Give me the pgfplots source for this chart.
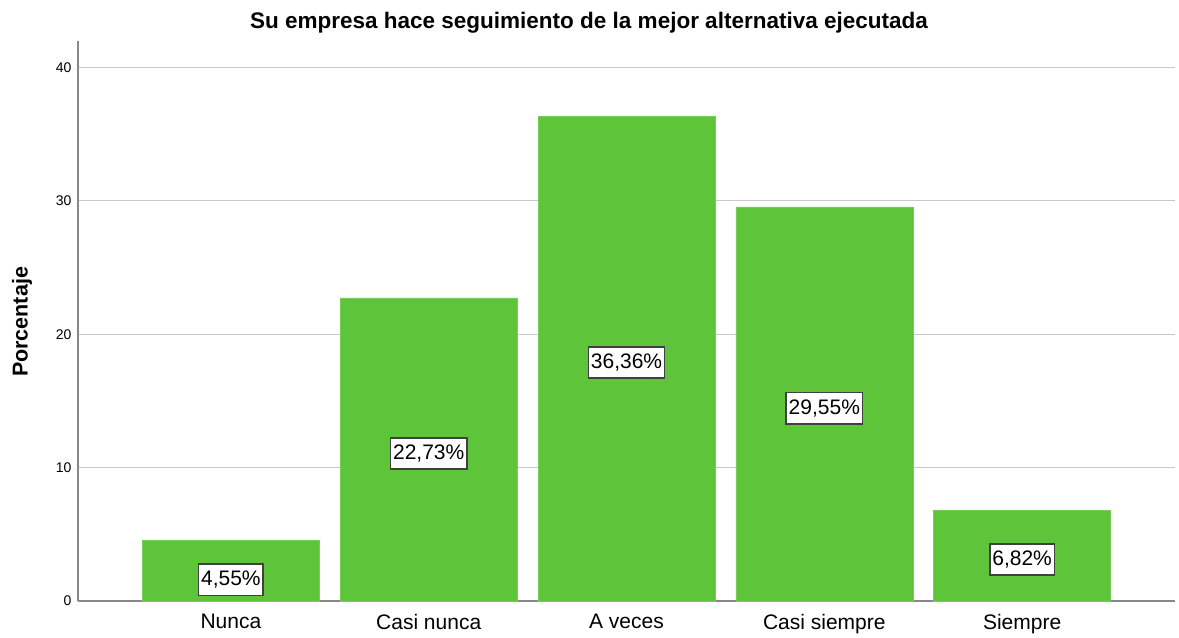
\documentclass[border=0pt]{standalone}
\usepackage{pgfplots}
\pgfplotsset{compat=1.18}
\usepackage{fontspec}
\setmainfont{Liberation Sans}
\definecolor{bargreen}{RGB}{94,196,58}
\definecolor{axgray}{RGB}{136,136,136}
\definecolor{gridgray}{RGB}{200,200,200}
\begin{document}
\begin{tikzpicture}
\begin{axis}[
    scale only axis,
    width=1097bp,
    height=560bp,
    xmin=-0.773, xmax=4.773,
    ymin=0, ymax=42,
    axis x line*=bottom,
    axis y line*=left,
    axis line style={axgray, line width=1.2bp},
    xtick=data,
    xticklabels={Nunca, Casi nunca, A veces, Casi siempre, Siempre},
    ytick={0,10,20,30,40},
    major tick length=0pt,
    ymajorgrids=true,
    grid style={gridgray, line width=1bp},
    x tick label style={font=\fontsize{21bp}{24bp}\selectfont, yshift=-10bp},
    y tick label style={font=\fontsize{14bp}{16bp}\selectfont, xshift=-3bp},
    /pgf/number format/assume math mode=true,
    clip=false,
]
\addplot[ybar, bar width=177bp, fill=bargreen, draw=bargreen!85!white, bar shift=0pt] coordinates {
    (0,4.55) (1,22.73) (2,36.36) (3,29.55) (4,6.82)
};
\addplot[draw=none, mark=none, point meta=explicit symbolic,
    nodes near coords,
    nodes near coords align={center},
    every node near coord/.style={anchor=center, fill=white, draw=black!75, line width=1.6bp,
        inner xsep=2.5bp, inner ysep=7bp, yshift=-4bp, font=\fontsize{21bp}{24bp}\selectfont}]
coordinates {
    (0,1.88) [4,55\%]
    (1,11.36) [22,73\%]
    (2,18.18) [36,36\%]
    (3,14.77) [29,55\%]
    (4,3.41) [6,82\%]
};
\end{axis}
\node[font=\bfseries\fontsize{22.5bp}{26bp}\selectfont] at (511bp,578bp) {Su empresa hace seguimiento de la mejor alternativa ejecutada};
\node[rotate=90, font=\bfseries\fontsize{21.5bp}{24bp}\selectfont] at (-56bp,279bp) {Porcentaje};
\path (-78bp,-34bp) rectangle (1101bp,601bp);
\end{tikzpicture}
\end{document}
